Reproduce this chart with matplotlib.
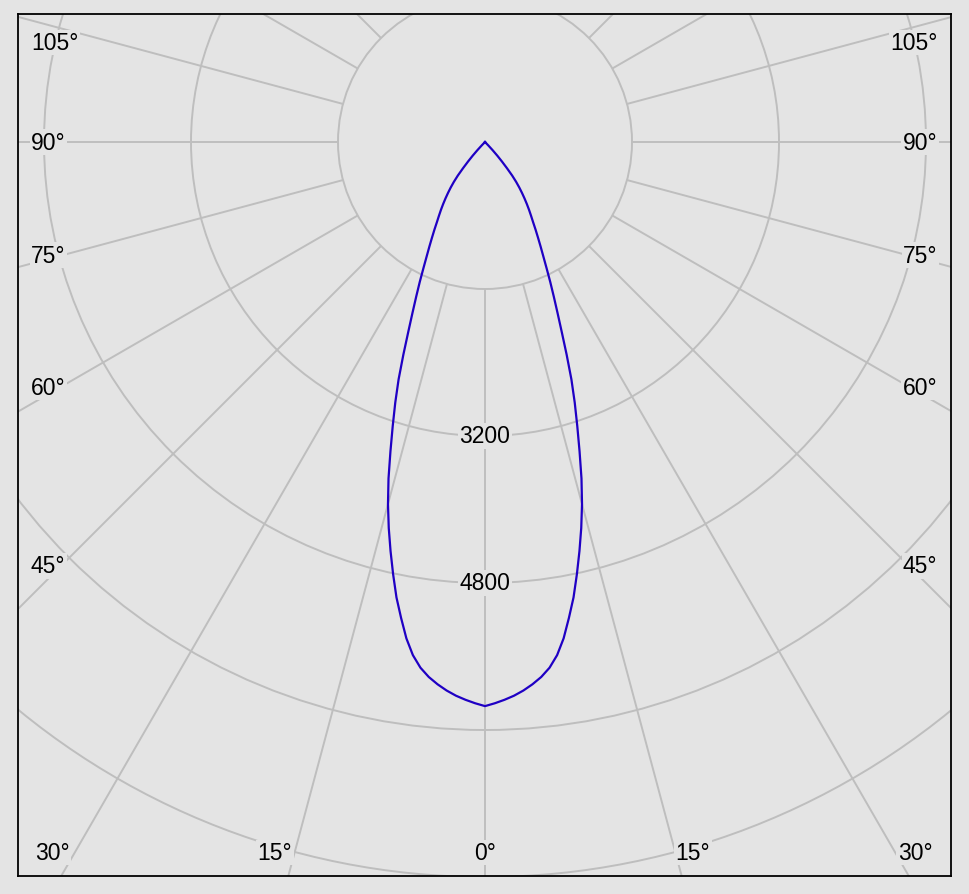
import numpy as np
import matplotlib
matplotlib.use('Agg')
from matplotlib import pyplot as plt
from matplotlib.patches import Circle

plt.rcParams['font.family'] = ['Liberation Sans', 'DejaVu Sans']

# luminous intensity (cd) vs angle from nadir (deg), mirrored on both sides
angles = list(range(0, 46)) + [60, 75, 90]
intensity = [6140, 6110, 6075, 6035, 5985, 5925, 5855, 5765, 5640, 5470,
             5260, 5050, 4810, 4570, 4330, 4080, 3810, 3520, 3250, 3000,
             2750, 2480, 2230, 2020, 1840, 1680, 1530, 1400, 1290, 1190,
             1100, 1015, 945, 880, 815, 750, 685, 620, 550, 470,
             370, 280, 200, 120, 50, 0, 0, 0, 0]

rings = [1600, 3200, 4800, 6400, 8000, 9600]
ring_labels = [3200, 4800]
spoke_step = 15

side_labels = ['105°', '90°', '75°', '60°', '45°']
side_label_y = [0.967, 0.8515, 0.720, 0.567, 0.360]
bottom_labels = ['30°', '15°', '0°', '15°', '30°']
bottom_label_x = [0.0364, 0.2755, 0.5005, 0.7235, 0.9614]

bg = '#e4e4e4'
grid = '#bebebe'
curve_col = '#1f00c4'
fs = 16.5

fig = plt.figure(figsize=(9.69, 8.95), dpi=100, facecolor=bg)
ax = fig.add_axes([18/969, 18/895, 933/969, 862/895])
ax.set_facecolor(bg)

k = 1600/147.0  # cd per pixel
ax.set_xlim((18-485)*k, (951-485)*k)
ax.set_ylim(-(877-143)*k, (143-15)*k)
ax.set_aspect('equal')
ax.set_xticks([])
ax.set_yticks([])
for s in ax.spines.values():
    s.set_color('black')
    s.set_linewidth(1.3)

# spokes start at first ring
r0, r1 = rings[0], 20000
for a in range(0, 360, spoke_step):
    t = np.radians(a)
    ax.plot([r0*np.sin(t), r1*np.sin(t)], [-r0*np.cos(t), -r1*np.cos(t)],
            color=grid, lw=1.4, zorder=1, solid_capstyle='butt')

for r in rings:
    ax.add_patch(Circle((0, 0), r, fill=False, edgecolor=grid, lw=1.4, zorder=1))

for r in ring_labels:
    ax.text(0, -r, str(r), ha='center', va='center', fontsize=fs, zorder=3,
            bbox=dict(facecolor=bg, edgecolor='none', pad=1.0))

th = np.radians(np.array(angles, dtype=float))
I = np.array(intensity, dtype=float)
th_all = np.concatenate([-th[::-1], th[1:]])
I_all = np.concatenate([I[::-1], I[1:]])
ax.plot(I_all*np.sin(th_all), -I_all*np.cos(th_all), color=curve_col, lw=1.6,
        zorder=4, solid_joinstyle='round')

for lab, y in zip(side_labels, side_label_y):
    ax.text(0.0139, y, lab, transform=ax.transAxes, ha='left', va='center',
            fontsize=fs, zorder=3, bbox=dict(facecolor=bg, edgecolor='none', pad=1.0))
    ax.text(0.9855, y, lab, transform=ax.transAxes, ha='right', va='center',
            fontsize=fs, zorder=3, bbox=dict(facecolor=bg, edgecolor='none', pad=1.0))

for lab, x in zip(bottom_labels, bottom_label_x):
    ax.text(x, 0.0273, lab, transform=ax.transAxes, ha='center', va='center',
            fontsize=fs, zorder=3, bbox=dict(facecolor=bg, edgecolor='none', pad=1.0))

plt.savefig('out.png', dpi=100, facecolor=bg)
